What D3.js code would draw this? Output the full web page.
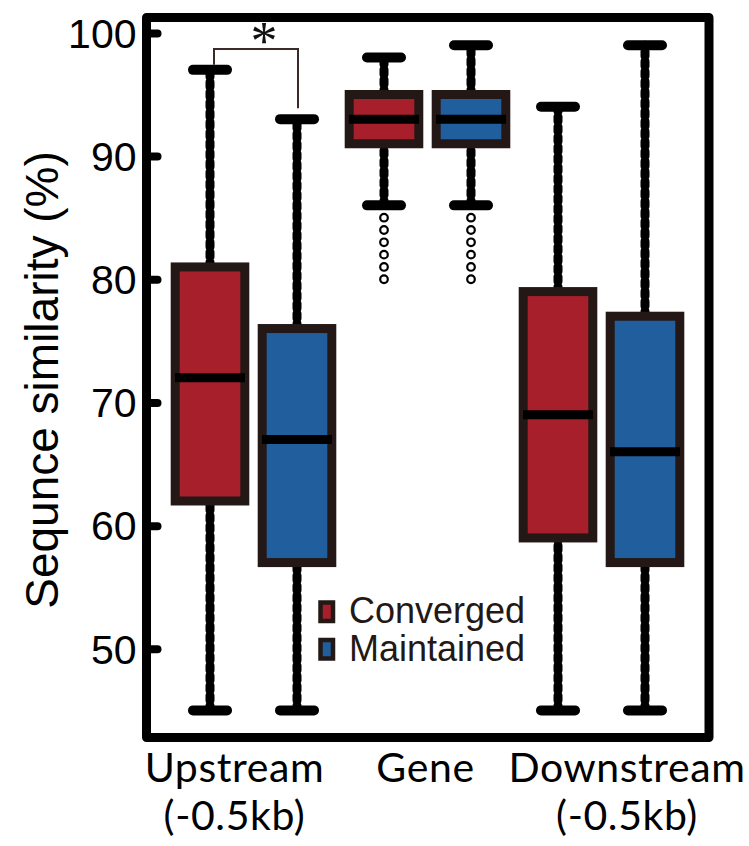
<!DOCTYPE html>
<html>
<head>
<meta charset="utf-8">
<script src="https://cdn.jsdelivr.net/npm/d3@7"></script>
<style>
  body { margin: 0; background: #fff; }
  svg { display: block; }
</style>
</head>
<body>
<svg id="chart" width="749" height="846"></svg>
<script>
// data
const groups = ['Upstream', 'Gene', 'Downstream'];
const series = ['Converged', 'Maintained'];
const seriesColors = ['#a81f2c', '#215e9e'];
// one entry per box, order: group by group, converged then maintained
const lowWhisker = [45, 45, 86, 86, 45, 45];
const q1Values = [62, 57, 91, 91, 59, 57];
const medians = [72, 67, 93, 93, 69, 66];
const q3Values = [81, 76, 95, 95, 79, 77];
const highWhisker = [97, 93, 98, 99, 94, 99];
const outliers = [[], [], [85, 84, 83, 82, 81, 80], [85, 84, 83, 82, 81, 80], [], []];
const yTicks = [50, 60, 70, 80, 90, 100];
const xLabelLines = [['Upstream', '(-0.5kb)'], ['Gene'], ['Downstream', '(-0.5kb)']];
const xLabelShift = [-19, -2, 25.5];

const svg = d3.select('#chart');
const frame = { left: 146.5, right: 709, top: 17.5, bottom: 737.5 };

const y = d3.scaleLinear().domain([42.8, 101.25]).range([frame.bottom, frame.top]);
const x0 = d3.scaleBand().domain(groups).range([166.5, 688.5]);
const x1 = d3.scaleBand().domain(series).range([0, x0.bandwidth()]);

const boxes = groups.flatMap((g, i) => series.map((s, j) => {
  let k = i * 2 + j;
  return {
    group: g, series: s, color: seriesColors[j],
    lo: lowWhisker[k], q1: q1Values[k], med: medians[k], q3: q3Values[k], hi: highWhisker[k],
    out: outliers[k],
    cx: x0(g) + x1(s) + x1.bandwidth() / 2,
  };
}));

const boxW = x1.bandwidth() * 0.8;
const capHalf = 17;

// whiskers (thick, beaded)
let wg = svg.append('g');
boxes.forEach(b => {
  [[b.lo, b.q1], [b.q3, b.hi]].forEach(seg => {
    wg.append('line')
      .attr('x1', b.cx).attr('x2', b.cx)
      .attr('y1', y(seg[0])).attr('y2', y(seg[1]))
      .attr('stroke', '#000')
      .attr('stroke-width', 9)
      .attr('stroke-linecap', 'round')
      .attr('stroke-dasharray', '5 5');
  });
  [b.lo, b.hi].forEach(v => {
    wg.append('line')
      .attr('x1', b.cx - capHalf).attr('x2', b.cx + capHalf)
      .attr('y1', y(v)).attr('y2', y(v))
      .attr('stroke', '#000')
      .attr('stroke-width', 10)
      .attr('stroke-linecap', 'round');
  });
  b.out.forEach(v => {
    wg.append('circle')
      .attr('cx', b.cx).attr('cy', y(v)).attr('r', 3.8)
      .attr('fill', '#fff')
      .attr('stroke', '#000')
      .attr('stroke-width', 2.2);
  });
});

// boxes
let bg = svg.append('g');
bg.selectAll('rect')
  .data(boxes)
  .join('rect')
  .attr('x', d => d.cx - boxW / 2)
  .attr('y', d => y(d.q3))
  .attr('width', boxW)
  .attr('height', d => y(d.q1) - y(d.q3))
  .attr('fill', d => d.color)
  .attr('stroke', '#231815')
  .attr('stroke-width', 9);

bg.selectAll('line.median')
  .data(boxes)
  .join('line')
  .attr('class', 'median')
  .attr('x1', d => d.cx - 35).attr('x2', d => d.cx + 35)
  .attr('y1', d => y(d.med)).attr('y2', d => y(d.med))
  .attr('stroke', '#000')
  .attr('stroke-width', 9);

// significance bracket
const bx1 = boxes[0].cx + 4, bx2 = boxes[1].cx + 1;
svg.append('path')
  .attr('d', `M${bx1},${y(97) - 5}V${y(98.7)}H${bx2}V${y(93) - 11}`)
  .attr('fill', 'none')
  .attr('stroke', '#3a2a28')
  .attr('stroke-width', 2);
svg.append('text')
  .attr('x', (bx1 + bx2) / 2 + 8)
  .attr('y', 59)
  .attr('text-anchor', 'middle')
  .attr('font-family', '"Liberation Serif", serif')
  .attr('font-size', 54)
  .attr('fill', '#111')
  .text('*');

// frame
svg.append('rect')
  .attr('x', frame.left).attr('y', frame.top)
  .attr('width', frame.right - frame.left)
  .attr('height', frame.bottom - frame.top)
  .attr('fill', 'none')
  .attr('stroke', '#000')
  .attr('stroke-width', 9)
  .attr('stroke-linejoin', 'round');

// y axis, ticks pointing inward
let yAxis = svg.append('g')
  .attr('transform', `translate(${frame.left},0)`)
  .call(d3.axisLeft(y).tickValues(yTicks).tickSizeInner(-11).tickSizeOuter(0).tickPadding(10));
yAxis.select('.domain').remove();
yAxis.selectAll('.tick line')
  .attr('stroke', '#000')
  .attr('stroke-width', 8)
  .attr('stroke-linecap', 'round');
yAxis.selectAll('.tick text')
  .attr('font-family', '"Liberation Sans", Arial, sans-serif')
  .attr('font-size', 41)
  .attr('fill', '#000')
  .attr('dy', '0.35em');

svg.append('text')
  .attr('transform', 'translate(58,380) rotate(-90)')
  .attr('text-anchor', 'middle')
  .attr('font-family', '"Liberation Sans", Arial, sans-serif')
  .attr('font-size', 46)
  .attr('fill', '#000')
  .text('Sequnce similarity (%)');

// x labels
groups.forEach((g, i) => {
  xLabelLines[i].forEach((line, li) => {
    svg.append('text')
      .attr('x', x0(g) + x0.bandwidth() / 2 + xLabelShift[i])
      .attr('y', 782 + li * 48)
      .attr('text-anchor', 'middle')
      .attr('font-family', 'Lato, sans-serif')
      .attr('font-size', 41)
      .attr('letter-spacing', 0.6)
      .attr('fill', '#000')
      .text(line);
  });
});

// legend
let lg = svg.append('g');
series.forEach((s, i) => {
  lg.append('rect')
    .attr('x', 320.5).attr('y', 602.5 + i * 37.5)
    .attr('width', 12.5).attr('height', 18.5)
    .attr('fill', seriesColors[i])
    .attr('stroke', '#231815')
    .attr('stroke-width', 4.5);
  lg.append('text')
    .attr('x', 349).attr('y', 623 + i * 38)
    .attr('font-family', '"Liberation Sans", Arial, sans-serif')
    .attr('font-size', 36)
    .attr('fill', '#231815')
    .text(s);
});
</script>
</body>
</html>
